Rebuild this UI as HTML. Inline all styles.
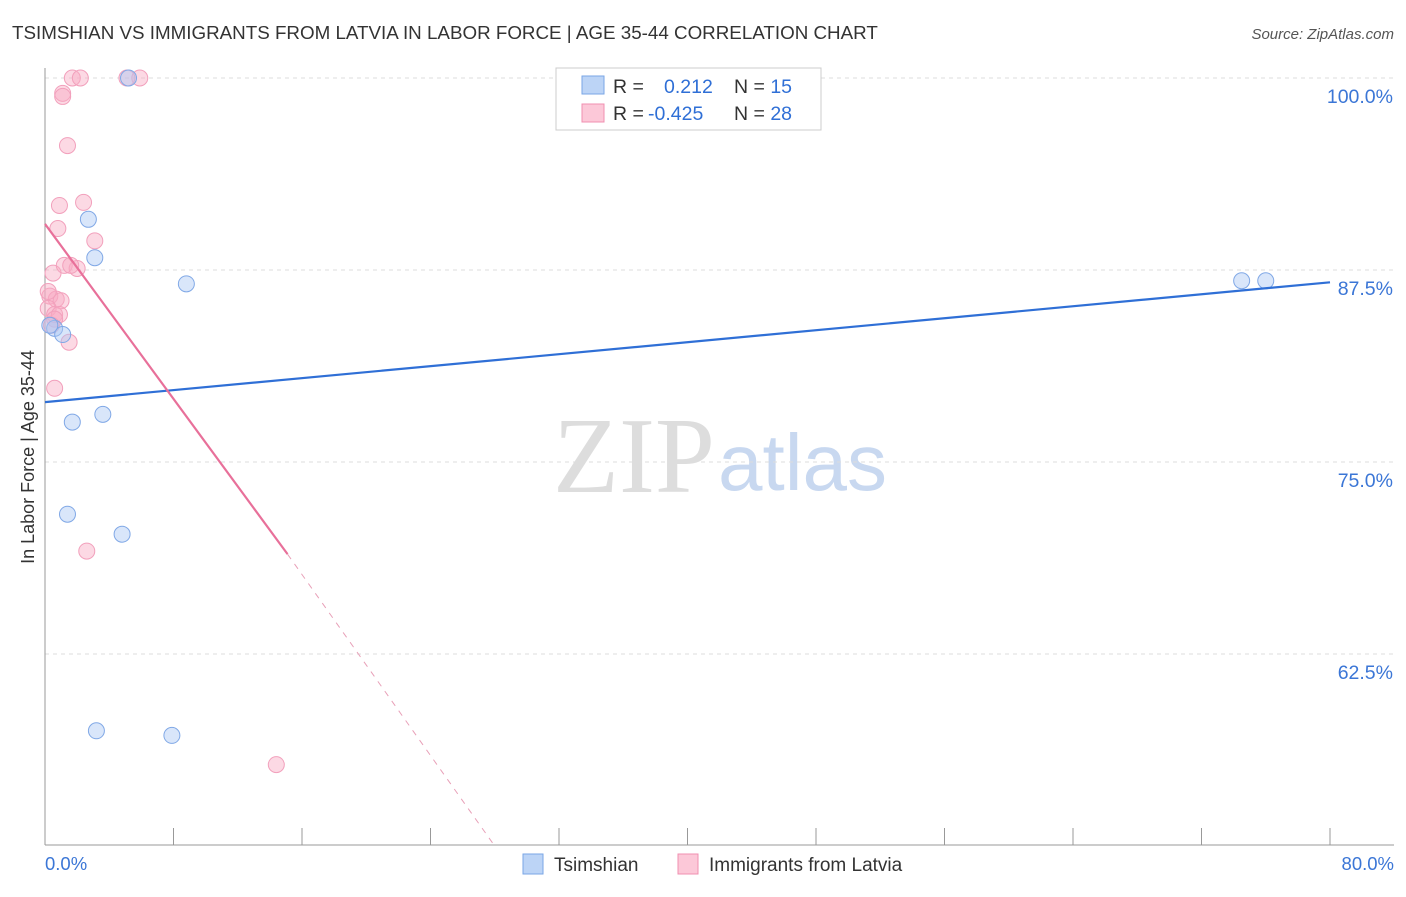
<!DOCTYPE html>
<html><head><meta charset="utf-8"><style>
body{margin:0;background:#fff;font-family:"Liberation Sans",sans-serif;}
</style></head><body>
<svg id="chart" width="1406" height="892" xmlns="http://www.w3.org/2000/svg" style="font-family:'Liberation Sans',sans-serif">
<text x="12" y="39" font-size="18.8" fill="#333">TSIMSHIAN VS IMMIGRANTS FROM LATVIA IN LABOR FORCE | AGE 35-44 CORRELATION CHART</text>
<text x="1394" y="39" font-size="15" fill="#555" text-anchor="end" font-style="italic">Source: ZipAtlas.com</text>
<text transform="translate(34,457) rotate(-90)" font-size="18" fill="#333" text-anchor="middle">In Labor Force | Age 35-44</text>
<text x="553" y="492" font-size="108" fill="#ddd" font-family="Liberation Serif,serif">ZIP</text>
<text x="718" y="490" font-size="80" fill="#c8d8f0">atlas</text>
<g id="grid"></g><g id="marks"></g>
<g>
<rect x="556" y="68" width="265" height="62" fill="#fff" stroke="#ccc"/>
<rect x="582" y="76" width="22" height="18" fill="#bcd4f6" stroke="#7aa6e6"/>
<rect x="582" y="104" width="22" height="18" fill="#fcc8d8" stroke="#f08fb0"/>
<text x="613" y="93" font-size="19.5" fill="#333">R = <tspan fill="#2f6fd6" x="664">0.212</tspan><tspan fill="#333" x="734">N = </tspan><tspan fill="#2f6fd6">15</tspan></text>
<text x="613" y="120" font-size="19.5" fill="#333">R = <tspan fill="#2f6fd6" x="648">-0.425</tspan><tspan fill="#333" x="734">N = </tspan><tspan fill="#2f6fd6">28</tspan></text>
</g>
<g>
<rect x="523" y="854" width="20" height="20" fill="#bcd4f6" stroke="#7aa6e6"/>
<text x="554" y="871" font-size="19" fill="#333">Tsimshian</text>
<rect x="678" y="854" width="20" height="20" fill="#fcc8d8" stroke="#f08fb0"/>
<text x="709" y="871" font-size="19" fill="#333">Immigrants from Latvia</text>
</g>
</svg>
<script>
const yTicks=[100,87.5,75,62.5];
const xLabels=["0.0%","80.0%"];
const blueX=[5.2,2.7,3.1,8.8,0.6,1.1,3.6,1.7,1.4,4.8,3.2,7.9,74.5,76.0,0.3];
const blueY=[100,90.8,88.3,86.6,83.7,83.3,78.1,77.6,71.6,70.3,57.5,57.2,86.8,86.8,83.9];
const pinkX=[1.7,2.2,5.9,5.1,1.1,1.1,1.4,0.9,2.4,0.8,3.1,0.5,1.2,2.0,0.3,0.7,1.0,0.2,0.6,0.9,0.6,1.5,0.6,2.6,14.4,1.6,0.2,0.4];
const pinkY=[100,100,100,100,99.0,98.8,95.6,91.7,91.9,90.2,89.4,87.3,87.8,87.6,85.8,85.6,85.5,85.0,84.6,84.6,84.3,82.8,79.8,69.2,55.3,87.8,86.1,83.9];
const blueLine=[[0,78.9],[80,86.7]];
const pinkLine=[[0,90.5],[15.1,69.0],[28,50]];
const NS="http://www.w3.org/2000/svg";
const X=v=>45+v/80*1285, Y=v=>78+(100-v)/12.5*192;
const grid=document.getElementById('grid'), marks=document.getElementById('marks');
function mk(tag,at,par){const e=document.createElementNS(NS,tag);for(const k in at)e.setAttribute(k,at[k]);par.appendChild(e);return e;}
yTicks.forEach(t=>{
 const l=mk('line',{x1:45,x2:1394,y1:Y(t),y2:Y(t),stroke:'#ddd','stroke-dasharray':'4,4'},grid);
 
 
 const tx=mk('text',{x:1393,y:Y(t)+25,'font-size':19.5,fill:'#3b76d6','text-anchor':'end'},grid);
 tx.textContent=t.toFixed(1)+'%';
 
 
});
mk('line',{x1:45,x2:45,y1:68,y2:845,stroke:'#999'},grid);
mk('line',{x1:45,x2:1394,y1:845,y2:845,stroke:'#999'},grid);
for(let i=0;i<=10;i++){mk('line',{x1:X(i*8),x2:X(i*8),y1:828,y2:845,stroke:'#999'},grid);}
const xl0=mk('text',{x:45,y:870,'font-size':18.5,fill:'#3b76d6'},grid);xl0.textContent=xLabels[0];


const xl1=mk('text',{x:1394,y:870,'font-size':18.5,fill:'#3b76d6','text-anchor':'end'},grid);xl1.textContent=xLabels[1];


pinkX.forEach((v,i)=>{const c=mk('circle',{cx:X(v),cy:Y(pinkY[i]),r:8,fill:'rgba(248,170,195,0.45)',stroke:'#f2a0bc'},marks);
 
 });
blueX.forEach((v,i)=>{const c=mk('circle',{cx:X(v),cy:Y(blueY[i]),r:8,fill:'rgba(170,200,245,0.45)',stroke:'#80a8e6'},marks);
 
 });
const bl=mk('line',{x1:X(blueLine[0][0]),y1:Y(blueLine[0][1]),x2:X(blueLine[1][0]),y2:Y(blueLine[1][1]),stroke:'#2f6fd6','stroke-width':2.2},marks);


const pl=mk('line',{x1:X(pinkLine[0][0]),y1:Y(pinkLine[0][1]),x2:X(pinkLine[1][0]),y2:Y(pinkLine[1][1]),stroke:'#e8709a','stroke-width':2.2},marks);


const pd=mk('line',{x1:X(pinkLine[1][0]),y1:Y(pinkLine[1][1]),x2:X(pinkLine[2][0]),y2:Y(pinkLine[2][1]),stroke:'#e8a0b8','stroke-width':1,'stroke-dasharray':'6,6'},marks);


</script>
</body></html>
